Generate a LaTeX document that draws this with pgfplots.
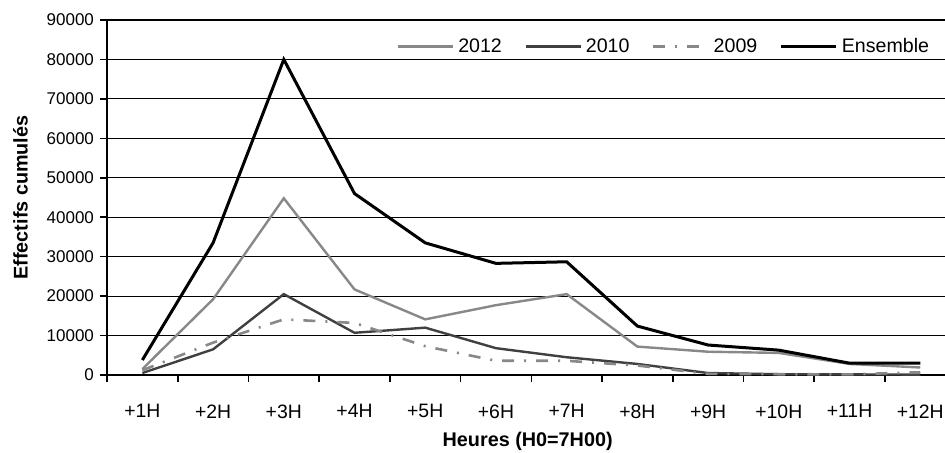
\documentclass[border=0pt]{standalone}
\usepackage{pgfplots}
\pgfplotsset{compat=1.18}
\usepackage{fontspec}
\setmainfont{Liberation Sans}
\definecolor{g12}{RGB}{136,136,136}
\definecolor{g10}{RGB}{64,64,64}
\definecolor{g09}{RGB}{136,136,136}
\begin{document}
\fontsize{8.5}{10}\selectfont
\begin{tikzpicture}
\useasboundingbox (-53.5pt,-39pt) rectangle (419pt,187.5pt);
\begin{axis}[
  scale only axis,
  width=419pt, height=177.5pt,
  at={(0,0)}, anchor=south west,
  xmin=0.5, xmax=12.35,
  ymin=0, ymax=90000,
  axis lines*=left,
  axis line style={line width=1pt, black},
  xtick={1,...,12},
  xticklabels={+1H,+2H,+3H,+4H,+5H,+6H,+7H,+8H,+9H,+10H,+11H,+12H},
  major x tick style={draw=none},
  minor xtick={0.5,1.5,...,11.5},
  minor x tick style={black, line width=0.8pt},
  minor tick length=3.5pt,
  ytick={0,10000,...,90000},
  major tick length=3.5pt,
  major y tick style={black, line width=0.8pt},
  tick align=outside,
  scaled y ticks=false,
  /pgf/number format/assume math mode=true,
  /pgf/number format/1000 sep={},
  yticklabel style={font=\fontsize{8.5}{10}\selectfont},
  xticklabel style={font=\fontsize{9.7}{11}\selectfont, yshift=-8.2pt},
  ymajorgrids,
  grid style={black, line width=0.6pt},
  xlabel={Heures (H0=7H00)},
  ylabel={Effectifs cumulés},
  label style={font=\fontsize{9.9}{12}\selectfont\bfseries},
  xlabel style={at={(axis description cs:0.502,-0.1879)}, anchor=center},
  ylabel style={at={(axis description cs:-0.1032,0.5)}, anchor=center},
  legend columns=4,
  legend style={draw=none, fill=none, at={(axis description cs:0.3383,0.925)}, anchor=west,
    font=\fontsize{9.8}{11}\selectfont,
    /tikz/every even column/.append style={column sep=9.3pt}},
  legend image code/.code={\draw[#1] (0pt,0pt) -- (27.5pt,0pt);},
  clip=false,
]
\addplot[g12, line width=1.2pt] coordinates {
(1,1500)(2,19200)(3,44800)(4,21700)(5,14100)(6,17700)(7,20500)(8,7200)(9,5900)(10,5600)(11,2800)(12,1900)};
\addlegendentry{2012}
\addplot[g10, line width=1.2pt] coordinates {
(1,500)(2,6500)(3,20500)(4,10700)(5,12000)(6,6800)(7,4500)(8,2800)(9,500)(10,200)(11,150)(12,100)};
\addlegendentry{2010}
\addplot[g09, line width=1.3pt, dash pattern=on 6pt off 5pt on 1pt off 5pt] coordinates {
(1,1200)(2,8200)(3,14100)(4,13200)(5,7300)(6,3600)(7,3600)(8,2400)(9,300)(10,200)(11,150)(12,700)};
\addlegendentry{2009}
\addplot[black, line width=1.5pt] coordinates {
(1,3800)(2,33500)(3,80000)(4,46000)(5,33500)(6,28300)(7,28700)(8,12400)(9,7600)(10,6300)(11,3000)(12,3000)};
\addlegendentry{Ensemble}
\end{axis}
\end{tikzpicture}
\end{document}
